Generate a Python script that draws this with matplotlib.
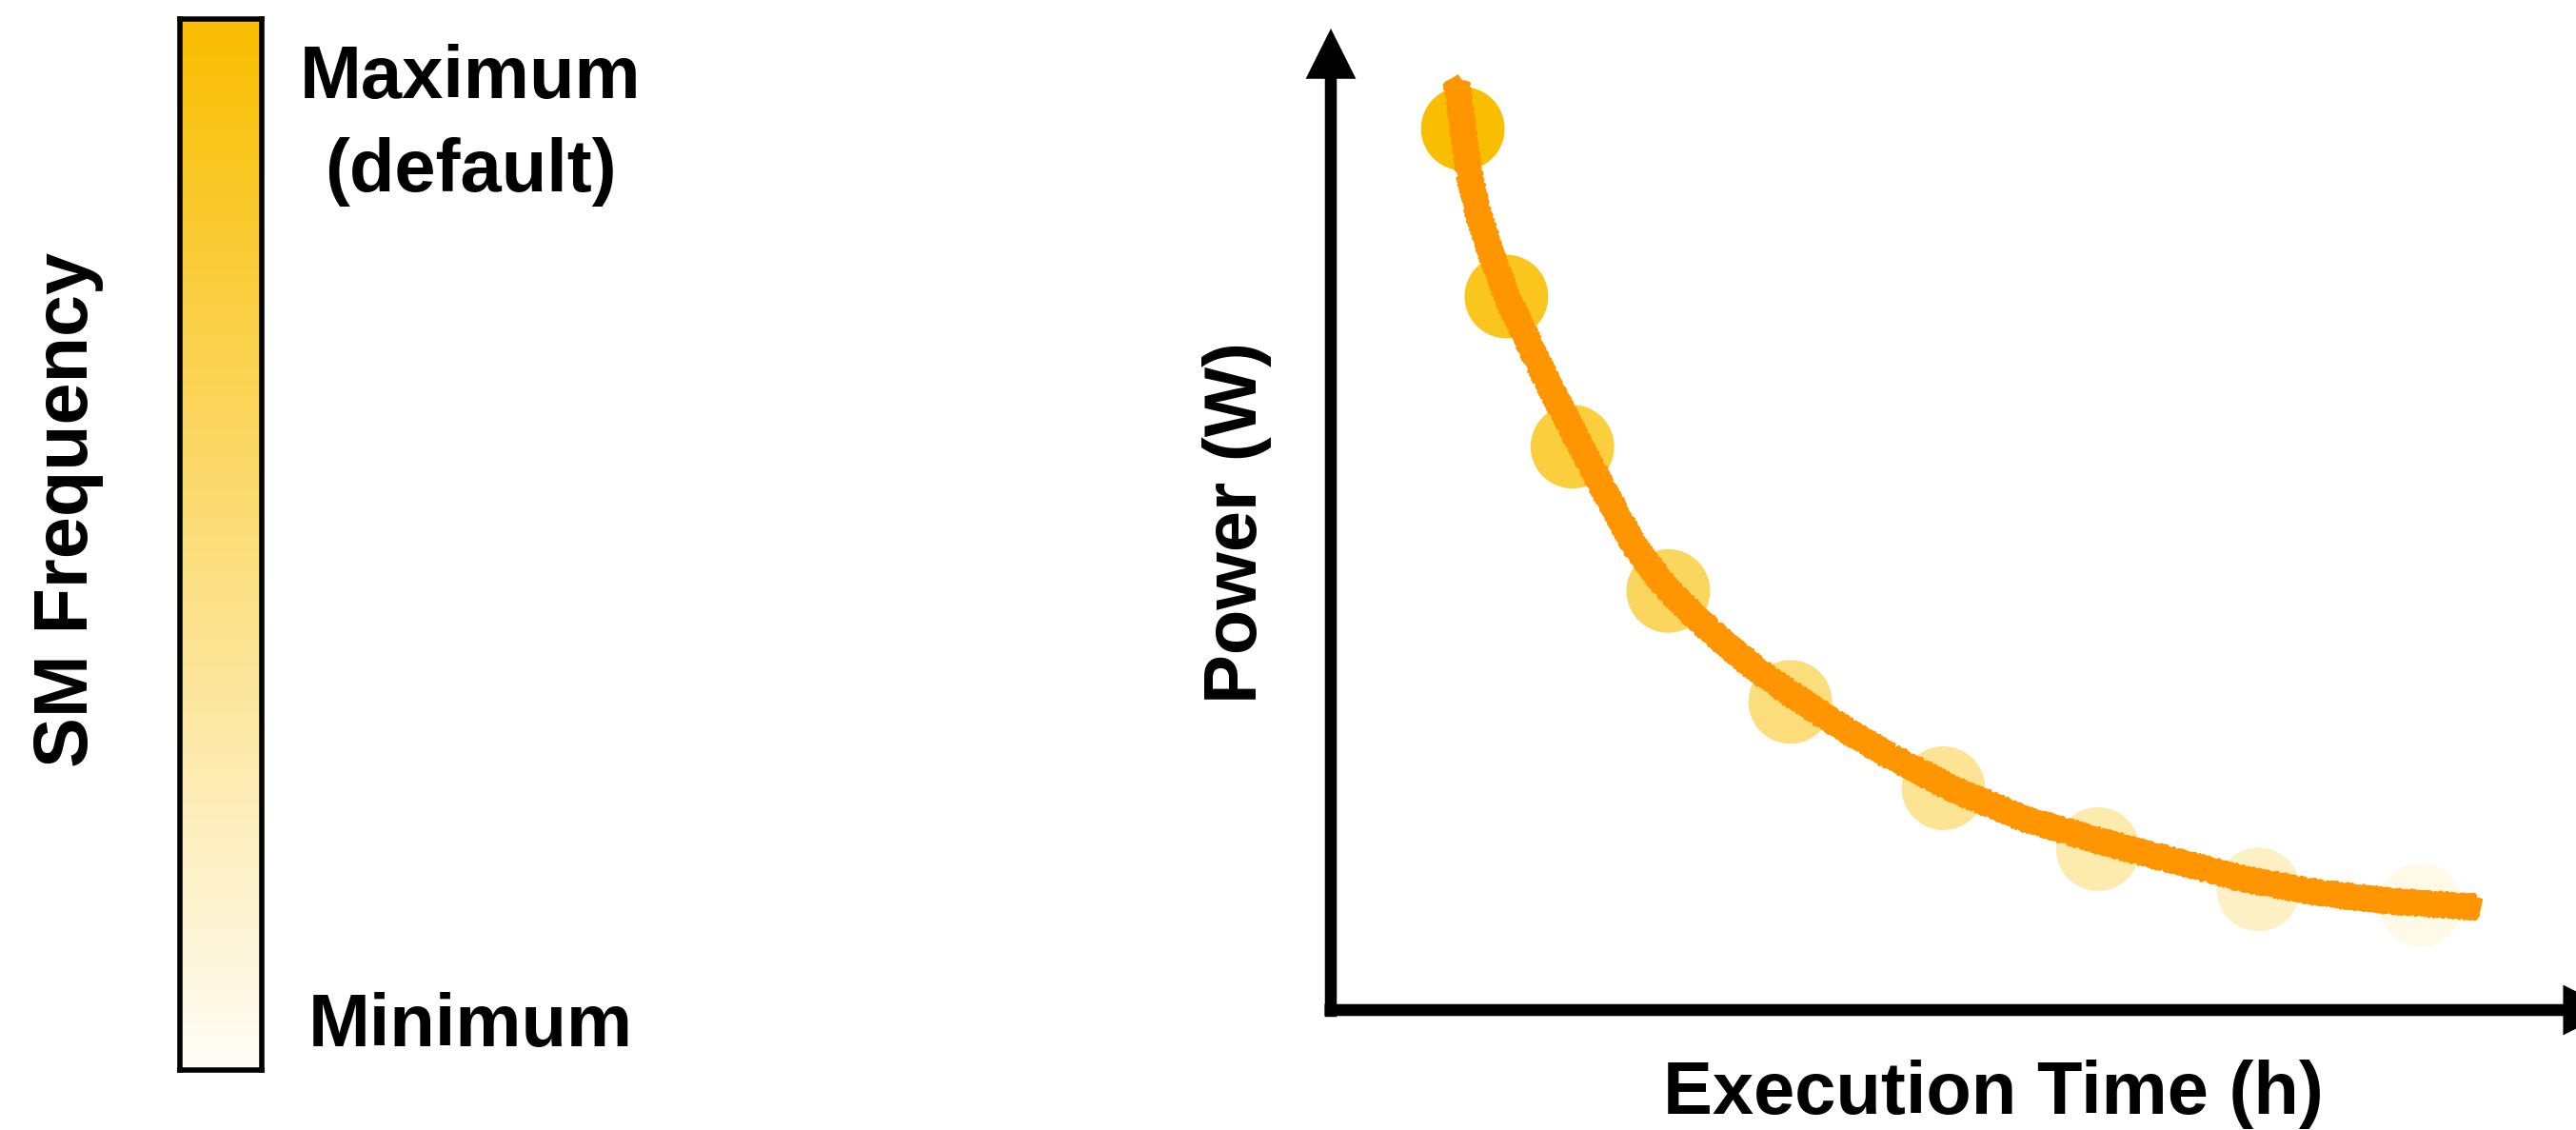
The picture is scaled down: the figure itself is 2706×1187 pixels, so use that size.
import numpy as np
import matplotlib
matplotlib.use("Agg")
import matplotlib.pyplot as plt
from matplotlib.colors import LinearSegmentedColormap

# SM frequency levels (fraction of maximum) of the measured runs
sm_freq = [1.0, 0.88, 0.75, 0.62, 0.5, 0.4, 0.3, 0.2, 0.06]
# execution time / power of each run (arbitrary units)
exec_time = [10.6, 14.1, 19.4, 27.1, 36.9, 49.2, 61.6, 74.5, 87.5]
power = [89.8, 72.7, 57.4, 42.7, 31.4, 22.6, 16.4, 12.3, 10.7]
# trend curve
trend_time = [10.1, 10.6, 11.1, 11.9, 12.9, 14.1, 16.0, 18.0, 20.0, 22.1, 24.4, 26.9,
              29.4, 32.0, 34.6, 37.1, 39.7, 42.2, 44.7, 47.3, 49.8, 55.7, 61.5, 67.4,
              73.2, 79.1, 84.9, 92.0]
trend_power = [94.6, 90.0, 85.2, 80.9, 77.0, 72.8, 67.7, 62.5, 57.6, 52.6, 47.2, 43.1,
               39.9, 37.0, 34.3, 32.1, 29.9, 27.9, 26.0, 24.3, 22.6, 19.5, 17.3, 15.3,
               13.4, 12.0, 11.1, 10.5]

W, H = 2706, 1187
FONT = "Liberation Sans"
ORANGE = "#FF9500"

cmap = LinearSegmentedColormap.from_list("sm", ["#FFFDF6", "#F9BE00"])


def fx(px):
    return px / W


def fy(py):
    return 1 - py / H


def draw_colorbar(fig):
    cax = fig.add_axes([fx(189), fy(1124), fx(275 - 189), (1124 - 20) / H])
    grad = np.linspace(0, 1, 256).reshape(-1, 1)
    cax.imshow(grad, cmap=cmap, aspect="auto", origin="lower", extent=[0, 1, 0, 1])
    cax.set_xticks([])
    cax.set_yticks([])
    for sp in cax.spines.values():
        sp.set_linewidth(4)
        sp.set_color("black")
    fig.text(fx(494), fy(83), "Maximum", ha="center", va="center",
             fontsize=56, fontweight="bold", family=FONT)
    fig.text(fx(494), fy(180), "(default)", ha="center", va="center",
             fontsize=56, fontweight="bold", family=FONT)
    fig.text(fx(494), fy(1079), "Minimum", ha="center", va="center",
             fontsize=56, fontweight="bold", family=FONT)
    fig.text(fx(72), fy(535), "SM Frequency", ha="center", va="center",
             rotation=90, fontsize=57, fontweight="bold", family=FONT)


def draw_curve(fig):
    ax = fig.add_axes([fx(1398), fy(1061), fx(W - 1398), (1061 - 30) / H])
    ax.set_xlim(0, 100)
    ax.set_ylim(0, 100)
    ax.axis("off")

    ax.scatter(exec_time, power, s=4000, c=sm_freq, cmap=cmap, vmin=0, vmax=1,
               linewidths=0, zorder=2, clip_on=False)

    # rough brush-like trend line
    ax.plot(trend_time, trend_power, color=ORANGE, lw=13, solid_capstyle="butt",
            solid_joinstyle="round", zorder=3)
    for lw, sk in [(8, (8, 8, 3)), (6, (10, 5, 2)), (5, (11, 12, 4)), (3, (13, 4, 2))]:
        ln, = ax.plot(trend_time, trend_power, color=ORANGE, lw=lw, zorder=3)
        ln.set_sketch_params(*sk)

    style = "simple,head_length=38,head_width=38,tail_width=9"
    ax.annotate("", xy=(0, 100), xytext=(0, -0.7), xycoords="data",
                arrowprops=dict(arrowstyle=style, color="black", lw=0,
                                shrinkA=0, shrinkB=0, mutation_scale=1),
                annotation_clip=False)
    ax.annotate("", xy=(103, 0), xytext=(-0.5, 0), xycoords="data",
                arrowprops=dict(arrowstyle=style, color="black", lw=0,
                                shrinkA=0, shrinkB=0, mutation_scale=1),
                annotation_clip=False)

    fig.text(fx(1300), fy(549), "Power (W)", ha="center", va="center",
             rotation=90, fontsize=56, fontweight="bold", family=FONT)
    fig.text(fx(2094), fy(1150), "Execution Time (h)", ha="center", va="center",
             fontsize=56, fontweight="bold", family=FONT)


def main():
    fig = plt.figure(figsize=(W / 100, H / 100), dpi=100)
    draw_colorbar(fig)
    draw_curve(fig)
    fig.savefig("out.png", dpi=100)


if __name__ == "__main__":
    main()
